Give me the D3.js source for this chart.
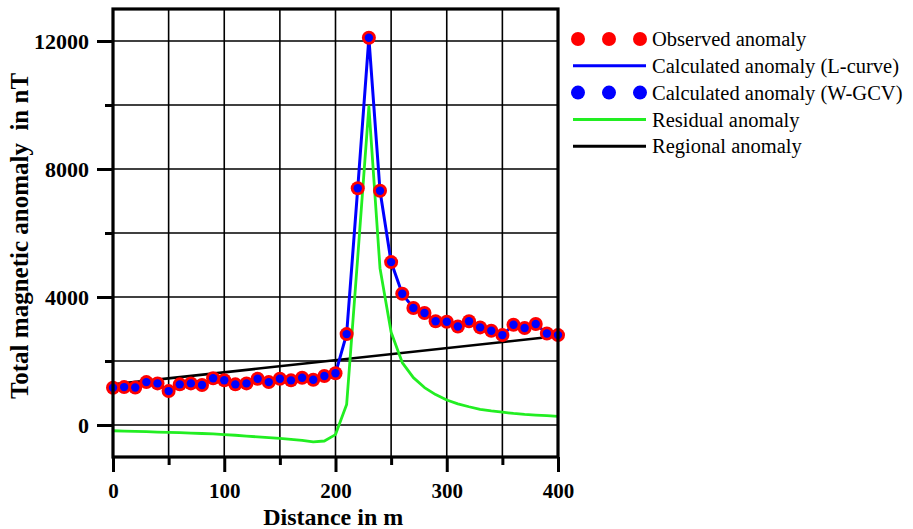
<!DOCTYPE html>
<html>
<head>
<meta charset="utf-8">
<script src="https://cdn.jsdelivr.net/npm/d3@7/dist/d3.min.js"></script>
<style>
  html, body { margin: 0; padding: 0; background: #fff; }
  svg { display: block; }
  text { font-family: "Times New Roman", "Liberation Serif", serif; }
</style>
</head>
<body>
<svg id="chart" width="913" height="529"></svg>
<script>
// Profile positions (m)
const distance = [0,10,20,30,40,50,60,70,80,90,100,110,120,130,140,150,160,170,180,190,
  200,210,220,230,240,250,260,270,280,290,300,310,320,330,340,350,360,370,380,390,400];

// Observed total-field anomaly (nT)
const observed = [1165,1185,1170,1340,1300,1060,1270,1300,1250,1460,1400,1270,1300,1445,1340,1445,1395,1475,1415,1530,
  1615,2840,7400,12100,7320,5090,4100,3655,3500,3240,3225,3080,3240,3050,2945,2810,3135,3030,3155,2860,2810];

// Calculated anomaly, L-curve regularisation (nT)
const calcLCurve = [1165,1185,1170,1340,1300,1060,1270,1300,1250,1460,1400,1270,1300,1445,1340,1445,1395,1475,1415,1530,
  1615,2840,7400,12100,7320,5090,4100,3655,3500,3240,3225,3080,3240,3050,2945,2810,3135,3030,3155,2860,2810];

// Calculated anomaly, W-GCV regularisation (nT)
const calcWGCV = [1165,1185,1170,1340,1300,1060,1270,1300,1250,1460,1400,1270,1300,1445,1340,1445,1395,1475,1415,1530,
  1615,2840,7400,12100,7320,5090,4100,3655,3500,3240,3225,3080,3240,3050,2945,2810,3135,3030,3155,2860,2810];

// Residual anomaly (nT)
const residual = [-180,-190,-200,-210,-220,-230,-240,-255,-265,-280,-300,-320,-345,-370,-395,-420,-450,-480,-530,-500,
  -300,640,5250,9950,4900,2900,1950,1480,1170,950,780,660,570,490,440,400,360,330,310,290,270];

// Regional anomaly (nT), linear trend end points
const regionalX = [0, 400];
const regionalY = [1270, 2780];

const xTicks = [0, 100, 200, 300, 400];
const xMinorTicks = [50, 150, 250, 350];
const yTicks = [0, 4000, 8000, 12000];
const yMinorTicks = [2000, 6000, 10000];

const legendItems = [
  { label: "Observed anomaly", type: "dot", color: "#ff0000" },
  { label: "Calculated anomaly (L-curve)", type: "line", color: "#0000ff" },
  { label: "Calculated anomaly (W-GCV)", type: "dot", color: "#0000ff" },
  { label: "Residual anomaly", type: "line", color: "#22ee22" },
  { label: "Regional anomaly", type: "line", color: "#000000" }
];

const svg = d3.select("#chart");
const plotLeft = 113, plotRight = 558, plotTop = 9, plotBottom = 457;

const x = d3.scaleLinear().domain([0, 400]).range([plotLeft, plotRight]);
const y = d3.scaleLinear().domain([-1000, 13000]).range([plotBottom, plotTop]);

// Grid
const grid = svg.append("g");
grid.selectAll("line.v").data(d3.range(50, 400, 50)).join("line")
  .attr("class", "v")
  .attr("x1", d => x(d)).attr("x2", d => x(d))
  .attr("y1", plotTop).attr("y2", plotBottom)
  .attr("stroke", "#000").attr("stroke-width", 1.6);
grid.selectAll("line.h").data(d3.range(0, 13000, 2000)).join("line")
  .attr("class", "h")
  .attr("x1", plotLeft).attr("x2", plotRight)
  .attr("y1", d => y(d)).attr("y2", d => y(d))
  .attr("stroke", "#000").attr("stroke-width", 1.6);

// Axes
const tickFont = (g, size) => g.selectAll("text")
  .attr("font-family", "'Times New Roman', 'Liberation Serif', serif")
  .attr("font-weight", "bold").attr("font-size", size).attr("fill", "#000");

const xAxis = svg.append("g").attr("transform", `translate(0,${plotBottom})`)
  .call(d3.axisBottom(x).tickValues(xTicks).tickSize(15).tickPadding(11).tickFormat(d3.format("d")));
xAxis.select(".domain").remove();
xAxis.selectAll("line").attr("stroke-width", 3);
tickFont(xAxis, 21);

const xMinor = svg.append("g").attr("transform", `translate(0,${plotBottom})`)
  .call(d3.axisBottom(x).tickValues(xMinorTicks).tickSize(8).tickFormat(""));
xMinor.select(".domain").remove();
xMinor.selectAll("line").attr("stroke-width", 3);

const yAxis = svg.append("g").attr("transform", `translate(${plotLeft},0)`)
  .call(d3.axisLeft(y).tickValues(yTicks).tickSize(16).tickPadding(8).tickFormat(d3.format("d")));
yAxis.select(".domain").remove();
yAxis.selectAll("line").attr("stroke-width", 3);
tickFont(yAxis, 22);

const yMinor = svg.append("g").attr("transform", `translate(${plotLeft},0)`)
  .call(d3.axisLeft(y).tickValues(yMinorTicks).tickSize(8).tickFormat(""));
yMinor.select(".domain").remove();
yMinor.selectAll("line").attr("stroke-width", 3);

// Series
const pts = (xs, ys) => xs.map((d, i) => [d, ys[i]]);
const line = d3.line().x(d => x(d[0])).y(d => y(d[1]));

svg.append("path").datum(pts(regionalX, regionalY))
  .attr("d", line).attr("fill", "none").attr("stroke", "#000").attr("stroke-width", 2.6);

svg.append("path").datum(pts(distance, residual))
  .attr("d", line).attr("fill", "none").attr("stroke", "#22ee22").attr("stroke-width", 2.8)
  .attr("stroke-linejoin", "round");

svg.append("path").datum(pts(distance, calcLCurve))
  .attr("d", line).attr("fill", "none").attr("stroke", "#0000ff").attr("stroke-width", 3)
  .attr("stroke-linejoin", "round");

svg.append("g").selectAll("circle").data(pts(distance, observed)).join("circle")
  .attr("cx", d => x(d[0])).attr("cy", d => y(d[1])).attr("r", 7).attr("fill", "#ff0000");

svg.append("g").selectAll("circle").data(pts(distance, calcWGCV)).join("circle")
  .attr("cx", d => x(d[0])).attr("cy", d => y(d[1])).attr("r", 4.2).attr("fill", "#0000ff");

// Frame
svg.append("rect").attr("x", plotLeft).attr("y", plotTop)
  .attr("width", plotRight - plotLeft).attr("height", plotBottom - plotTop)
  .attr("fill", "none").attr("stroke", "#000").attr("stroke-width", 3.2);

// Axis titles
svg.append("text").attr("x", x(198)).attr("y", 525)
  .attr("text-anchor", "middle").attr("font-weight", "bold").attr("font-size", 24)
  .text("Distance in m");
svg.append("text").attr("transform", "translate(28,236) rotate(-90)")
  .attr("text-anchor", "middle").attr("font-weight", "bold").attr("font-size", 25)
  .style("white-space", "pre")
  .text("Total magnetic anomaly  in nT");

// Legend
const lg = svg.append("g");
const rowY = i => 39 + i * 26.8;
legendItems.forEach((it, i) => {
  const yy = rowY(i);
  if (it.type === "dot") {
    [578, 609, 640].forEach(cx => lg.append("circle")
      .attr("cx", cx).attr("cy", yy).attr("r", 7).attr("fill", it.color));
  } else {
    lg.append("line").attr("x1", 573).attr("x2", 646).attr("y1", yy).attr("y2", yy)
      .attr("stroke", it.color).attr("stroke-width", 3);
  }
  lg.append("text").attr("x", 652).attr("y", yy).attr("dy", "0.35em")
    .attr("font-size", 20.5).attr("fill", "#000").text(it.label);
});
</script>
</body>
</html>
